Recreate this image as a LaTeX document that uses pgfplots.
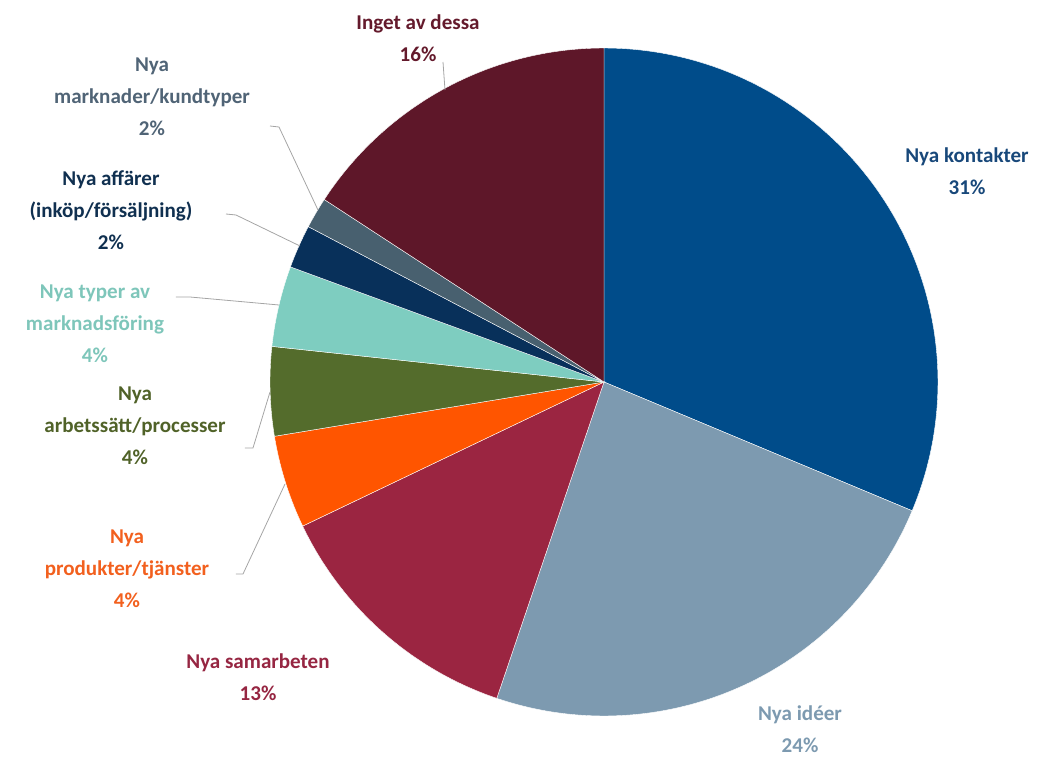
\documentclass[border=0pt]{standalone}
\usepackage{pgfplots}
\pgfplotsset{compat=1.18}
\usepackage{pgfplotstable}
\usepackage{fontspec}
\setmainfont{Carlito}
\definecolor{c0}{RGB}{0,76,138}
\definecolor{c1}{RGB}{125,154,176}
\definecolor{c2}{RGB}{155,37,65}
\definecolor{c3}{RGB}{255,85,0}
\definecolor{c4}{RGB}{84,108,44}
\definecolor{c5}{RGB}{126,205,192}
\definecolor{c6}{RGB}{8,48,90}
\definecolor{c7}{RGB}{72,96,111}
\definecolor{c8}{RGB}{94,23,41}
\definecolor{t0}{RGB}{24,72,122}
\definecolor{t1}{RGB}{125,154,176}
\definecolor{t2}{RGB}{150,38,66}
\definecolor{t3}{RGB}{242,96,30}
\definecolor{t4}{RGB}{80,98,40}
\definecolor{t5}{RGB}{126,198,186}
\definecolor{t6}{RGB}{16,48,80}
\definecolor{t7}{RGB}{80,100,118}
\definecolor{t8}{RGB}{100,26,44}
\definecolor{lead}{RGB}{165,165,165}
\pgfplotstableread{
label value
kontakter 31.3
ideer 23.9
samarbeten 12.7
produkter 4.5
arbetssatt 4.3
typer 3.9
affarer 2.1
marknader 1.5
inget 15.8
}\piedata
% cumulative start/end angles (clockwise from 12 o'clock)
\gdef\cum{0}
\pgfplotsforeachungrouped \i in {0,1,2,3,4,5,6,7,8}{%
  \pgfplotstablegetelem{\i}{value}\of\piedata
  \pgfmathsetmacro\tmpA{90-3.6*\cum}%
  \pgfmathsetmacro\tmpC{\cum+\pgfplotsretval}%
  \pgfmathsetmacro\tmpB{90-3.6*\tmpC}%
  \expandafter\xdef\csname angA\i\endcsname{\tmpA}%
  \expandafter\xdef\csname angB\i\endcsname{\tmpB}%
  \xdef\cum{\tmpC}%
}
\newcommand\slice[1]{%
  \addplot[draw=white, line width=0.3pt, fill=c#1, domain=\csname angB#1\endcsname:\csname angA#1\endcsname, samples=90]
    ({cos(x)},{sin(x)}) -- (axis cs:0,0) -- cycle;}
\begin{document}
\begin{tikzpicture}[x=0.75pt,y=0.75pt]
\useasboundingbox (-604,-378) rectangle (460,382);
\begin{axis}[anchor=center,
  width=501pt, height=501pt, scale only axis, hide axis,
  xmin=-1, xmax=1, ymin=-1, ymax=1, clip=false]
\slice{0}
\slice{1}
\slice{2}
\slice{3}
\slice{4}
\slice{5}
\slice{6}
\slice{7}
\slice{8}
\end{axis}
\begin{scope}[shift={(-604,-378)}]
\tikzset{lab/.style={align=center, inner sep=0pt, font=\bfseries\fontsize{15.8}{24}\selectfont}}
\draw[lead, line width=0.6pt] (443,698) -- (445,670);
\draw[lead, line width=0.6pt] (270,634) -- (279,633) -- (318,550);
\draw[lead, line width=0.6pt] (226,546) -- (236,545) -- (300,514);
\draw[lead, line width=0.6pt] (176,463) -- (190,463) -- (279,455);
\draw[lead, line width=0.6pt] (245,312) -- (253,312) -- (270,368);
\draw[lead, line width=0.6pt] (236,186) -- (243,186) -- (285,276);
\node[lab, text=t0] at (967,588.5) {Nya kontakter\\31\%};
\node[lab, text=t1] at (800,31) {Nya idéer\\24\%};
\node[lab, text=t2] at (258,83) {Nya samarbeten\\13\%};
\node[lab, text=t3] at (127,191) {Nya\\produkter/tjänster\\4\%};
\node[lab, text=t4] at (135,334) {Nya\\arbetssätt/processer\\4\%};
\node[lab, text=t5] at (95,436) {Nya typer av\\marknadsföring\\4\%};
\node[lab, text=t6] at (111,550) {Nya affärer\\(inköp/försäljning)\\2\%};
\node[lab, text=t7] at (152,663) {Nya\\marknader/kundtyper\\2\%};
\node[lab, text=t8] at (418,721.5) {Inget av dessa\\16\%};
\end{scope}
\end{tikzpicture}
\end{document}
